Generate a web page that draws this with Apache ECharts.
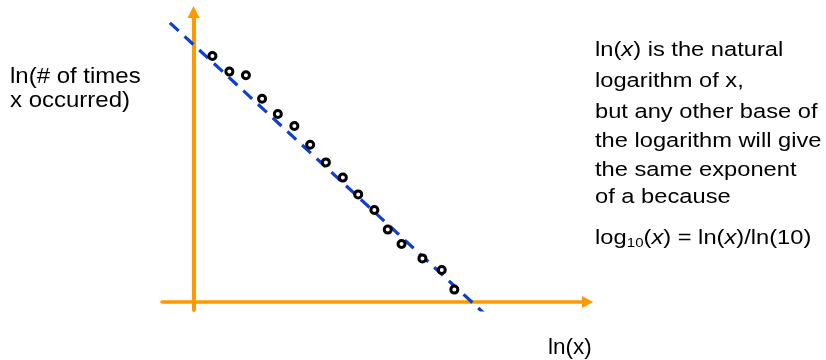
<!DOCTYPE html>
<html>
<head>
<meta charset="utf-8">
<script src="https://cdn.jsdelivr.net/npm/echarts@6/dist/echarts.min.js"></script>
<style>
  html, body { margin: 0; padding: 0; background: #fff; }
  #chart { width: 826px; height: 360px; }
</style>
</head>
<body>
<div id="chart"></div>
<script>
// Observed word-frequency points on log-log scale
const lnX = [0.48, 0.91, 1.33, 1.74, 2.14, 2.56, 2.96, 3.36, 3.79, 4.18, 4.59, 4.93, 5.28, 5.81, 6.30, 6.62];
const lnCount = [6.15, 5.76, 5.67, 5.08, 4.70, 4.40, 3.93, 3.49, 3.11, 2.69, 2.30, 1.81, 1.45, 1.09, 0.80, 0.31];

// Straight-line fit through the points (end points)
const fitX = [-0.60, 7.48];
const fitY = [6.98, -0.38];

const ORANGE = '#FF9900';
const BLUE = '#0F3FCC';
const FONT = '"Liberation Sans", Arial, sans-serif';

const chart = echarts.init(document.getElementById('chart'), null, { renderer: 'canvas' });

function tok(size, style) {
  return { fontSize: size, fontFamily: FONT, fontStyle: style || 'normal', fill: '#000' };
}

// One line of annotation text, vertically centred on y, optionally squeezed vertically
function textLine(str, x, y, size, sy) {
  return {
    type: 'text',
    x: x, y: y,
    scaleY: sy,
    z: 10,
    style: {
      text: str,
      fill: '#000',
      fontSize: size,
      fontFamily: FONT,
      align: 'left',
      verticalAlign: 'middle',
      rich: { i: tok(size, 'italic') }
    }
  };
}

const R = 23.7, RS = 0.88;
const LOG_Y = 238.5;

chart.setOption({
  animation: false,
  grid: { left: 162, right: 238.5, top: 12, bottom: 50, containLabel: false },
  xAxis: {
    type: 'value', min: -0.8, max: 10,
    axisLine: {
      show: true, onZero: true,
      symbol: ['none', 'triangle'], symbolSize: [12, 11],
      lineStyle: { color: ORANGE, width: 3.5 }
    },
    axisTick: { show: false }, axisLabel: { show: false }, splitLine: { show: false }
  },
  yAxis: {
    type: 'value', min: -0.2, max: 7.25,
    axisLine: {
      show: true, onZero: true,
      symbol: ['none', 'triangle'], symbolSize: [12, 12],
      lineStyle: { color: ORANGE, width: 4 }
    },
    axisTick: { show: false }, axisLabel: { show: false }, splitLine: { show: false }
  },
  series: [
    {
      type: 'line',
      data: fitX.map((x, i) => [x, fitY[i]]),
      showSymbol: false, symbol: 'none',
      lineStyle: { color: BLUE, width: 3.2, type: [12, 8], cap: 'butt' },
      z: 2
    },
    {
      type: 'scatter',
      data: lnX.map((x, i) => [x, lnCount[i]]),
      symbol: 'circle', symbolSize: 7,
      itemStyle: { color: '#fff', borderColor: '#000', borderWidth: 3, opacity: 1 },
      z: 3
    }
  ],
  graphic: [
    textLine('ln(# of times', 10, 77.3, 24, 0.9),
    textLine('x occurred)', 10, 100.6, 24, 0.9),
    textLine('ln(x)', 548, 347.7, 22.5, 1),
    textLine('ln({i|x}) is the natural', 595, 50.1, R, RS),
    textLine('logarithm of x,', 595, 80.8, R, RS),
    textLine('but any other base of', 595, 112.5, R, RS),
    textLine('the logarithm will give', 595, 140.8, R, RS),
    textLine('the same exponent', 595, 169.8, R, RS),
    textLine('of a because', 595, 197.5, R, RS),
    textLine('log', 595, LOG_Y, R, RS),
    textLine('10', 626.8, LOG_Y + 5, 15, RS),
    textLine('({i|x}) = ln({i|x})/ln(10)', 643.5, LOG_Y, R, RS)
  ]
});
</script>
</body>
</html>
